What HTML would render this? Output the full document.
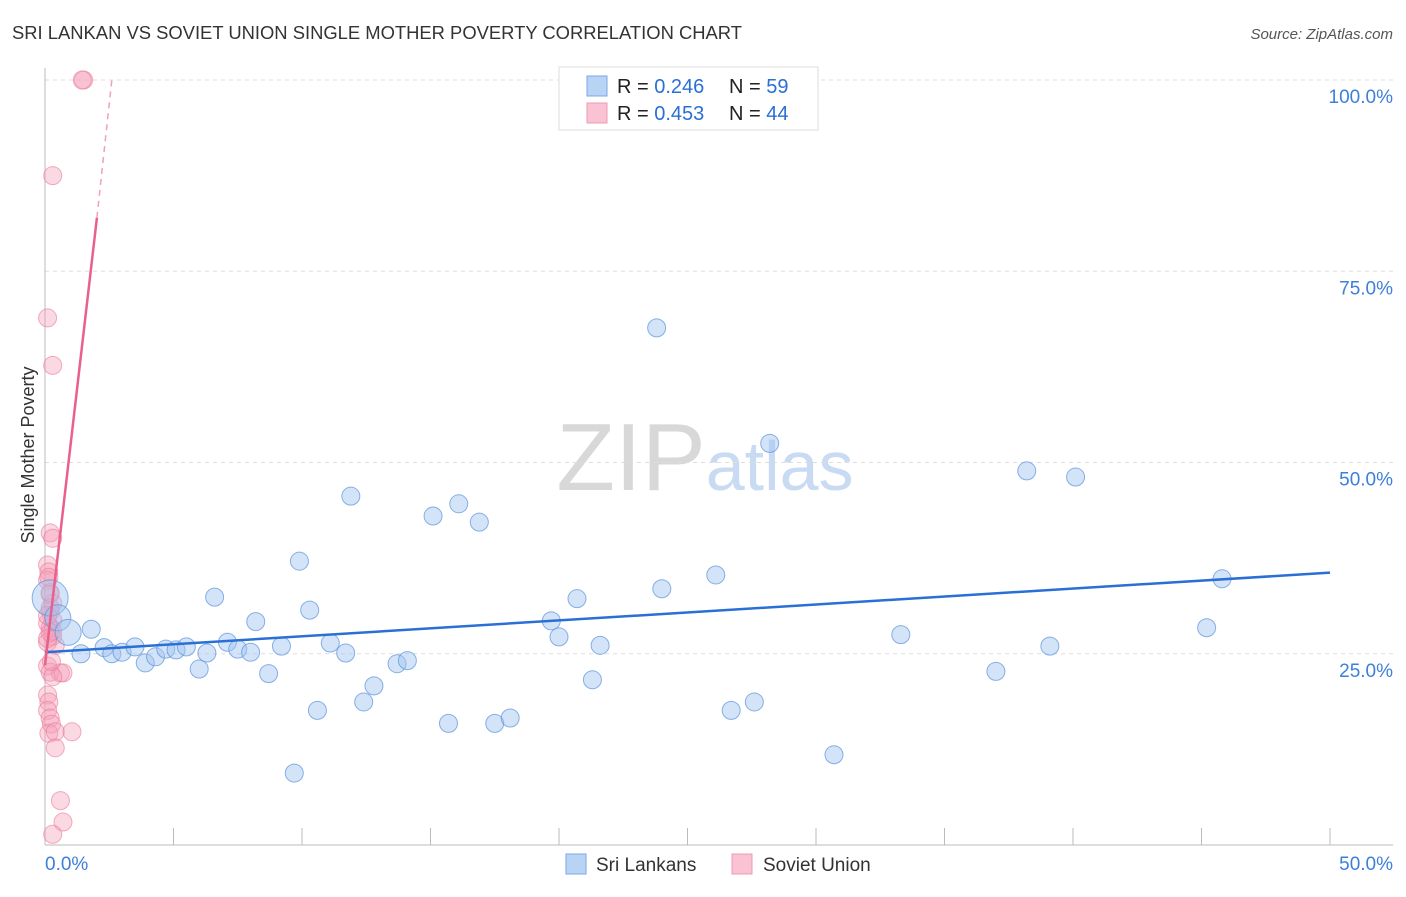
<!DOCTYPE html>
<html><head><meta charset="utf-8"><style>
body{margin:0;background:#fff;font-family:"Liberation Sans",sans-serif}
svg text{font-family:"Liberation Sans",sans-serif}
</style></head><body>
<svg width="1406" height="892" id="c">
<text x="12" y="39" font-size="18.4" fill="#333">SRI LANKAN VS SOVIET UNION SINGLE MOTHER POVERTY CORRELATION CHART</text>
<text x="1393" y="39" font-size="15" fill="#555" text-anchor="end" font-style="italic">Source: ZipAtlas.com</text>
<text x="34" y="455" font-size="18" fill="#333" transform="rotate(-90 34 455)" text-anchor="middle">Single Mother Poverty</text>
<text x="705" y="490" font-size="96" fill="#ddd" text-anchor="middle" font-family="Liberation Serif"><tspan fill="#d8d8d8">ZIP</tspan><tspan fill="#c8dbf2" font-family="Liberation Sans" font-size="70">atlas</tspan></text>
<g id="grid"></g><g id="marks"></g>
<g>
<rect x="559" y="67" width="259" height="63" fill="#fff" stroke="#ddd"/>
<rect x="587" y="76" width="20" height="20" fill="#b9d3f5" stroke="#7aa7e6"/>
<rect x="587" y="103" width="20" height="20" fill="#f9c3d3" stroke="#f09ab5"/>
<text x="617" y="93" font-size="20" fill="#222">R = <tspan fill="#2a6fd6">0.246</tspan></text>
<text x="729" y="93" font-size="20" fill="#222">N = <tspan fill="#2a6fd6">59</tspan></text>
<text x="617" y="120" font-size="20" fill="#222">R = <tspan fill="#2a6fd6">0.453</tspan></text>
<text x="729" y="120" font-size="20" fill="#222">N = <tspan fill="#2a6fd6">44</tspan></text>
</g>
<g>
<rect x="566" y="854" width="20" height="20" fill="#b9d3f5" stroke="#7aa7e6"/>
<text x="596" y="871" font-size="19" fill="#333">Sri Lankans</text>
<rect x="732" y="854" width="20" height="20" fill="#f9c3d3" stroke="#f09ab5"/>
<text x="763" y="871" font-size="19" fill="#333">Soviet Union</text>
</g>
</svg>
<script>
const xTicks=[0,50];
const yTicks=[25,50,75,100];
const blueX=[0.2,0.5,0.9,1.4,1.8,2.3,2.6,3.0,3.5,3.9,4.3,4.7,5.1,5.5,6.0,6.3,6.6,7.1,7.5,8.0,8.2,8.7,9.2,9.7,9.9,10.3,10.6,11.1,11.7,11.9,12.4,12.8,13.7,14.1,15.1,15.7,16.1,16.9,17.5,18.1,19.7,20.0,20.7,21.3,21.6,23.8,24.0,26.1,26.7,27.6,28.2,30.7,33.3,37.0,38.2,39.1,40.1,45.2,45.8];
const blueY=[32.3,29.7,27.8,25.0,28.2,25.8,25.0,25.2,25.9,23.8,24.6,25.6,25.5,25.9,23.0,25.1,32.4,26.5,25.6,25.2,29.2,22.4,26.0,9.4,37.1,30.7,17.6,26.4,25.1,45.6,18.7,20.8,23.7,24.1,43.0,15.9,44.6,42.2,15.9,16.6,29.3,27.2,32.2,21.6,26.1,67.6,33.5,35.3,17.6,18.7,52.5,11.8,27.5,22.7,48.9,26.0,48.1,28.4,34.8];
const pinkX=[1.5,1.45,0.3,0.1,0.3,0.2,0.3,0.1,0.15,0.1,0.2,0.3,0.2,0.3,0.2,0.3,0.1,0.4,0.1,0.2,0.6,0.7,0.1,0.15,0.1,0.2,0.25,0.15,0.4,1.05,0.4,0.6,0.7,0.3,0.1,0.2,0.3,0.1,0.2,0.1,0.3,0.2,0.15,0.25];
const pinkY=[100,100,87.5,68.9,62.7,40.8,40.1,36.6,35.7,34.6,32.8,31.6,30.5,29.4,28.4,27.3,26.5,26.1,23.4,22.6,22.5,22.5,19.6,18.7,17.6,16.6,15.8,14.6,14.8,14.8,12.7,5.8,3.0,1.4,29.0,31.0,28.0,27.0,33.0,30.0,22.0,27.8,35.0,24.0];
const blueTrend=[25.2,35.6];
const pinkTrend=[23.5,82,100];const pinkTrendX=[0,2.02,2.6];
const X=v=>45+v/50*1285, Y=v=>845-v/100*765;
const ns="http://www.w3.org/2000/svg";
function mk(t,a,p){const e=document.createElementNS(ns,t);for(const k in a)e.setAttribute(k,a[k]);p.appendChild(e);return e;}
const g=document.getElementById('grid'),m=document.getElementById('marks');
yTicks.forEach(t=>{const l=mk('line',{x1:45,x2:1393,y1:Y(t),y2:Y(t),stroke:'#ddd','stroke-dasharray':'4,4'},g);


const tx=mk('text',{x:1393,y:Y(t)+23,'font-size':19,fill:'#3d7fd9','text-anchor':'end'},g);tx.textContent=t.toFixed(1)+'%';

});
mk('line',{x1:45,x2:45,y1:68,y2:845,stroke:'#bbb'},g);
mk('line',{x1:45,x2:1393,y1:845,y2:845,stroke:'#bbb'},g);
for(let i=0;i<=10;i++){const l=mk('line',{x1:X(i*5),x2:X(i*5),y1:828,y2:845,stroke:'#bbb'},g);

}
xTicks.forEach((t,i)=>{const tx=mk('text',{x:i?1393:45,y:870,'font-size':19,fill:'#3d7fd9','text-anchor':i?'end':'start'},g);tx.textContent=t.toFixed(1)+'%';

});
pinkX.forEach((v,i)=>{const c=mk('circle',{cx:X(v),cy:Y(pinkY[i]),r:9,fill:'rgba(245,160,185,0.4)',stroke:'rgba(235,120,155,0.6)'},m);

});
blueX.forEach((v,i)=>{const c=mk('circle',{cx:X(v),cy:Y(blueY[i]),r:i==0?18:(i<3?13:9),fill:'rgba(160,195,240,0.45)',stroke:'rgba(90,145,220,0.7)'},m);

});
const bl=mk('line',{x1:X(0),y1:Y(blueTrend[0]),x2:X(50),y2:Y(blueTrend[1]),stroke:'#2a6fd6','stroke-width':2.5},m);


const pl=mk('line',{x1:X(pinkTrendX[0]),y1:Y(pinkTrend[0]),x2:X(pinkTrendX[1]),y2:Y(pinkTrend[1]),stroke:'#e8608c','stroke-width':2.5},m);


const pd=mk('line',{x1:X(pinkTrendX[1]),y1:Y(pinkTrend[1]),x2:X(pinkTrendX[2]),y2:Y(pinkTrend[2]),stroke:'#f0a0b8','stroke-width':1.5,'stroke-dasharray':'6,5'},m);


</script>
</body></html>
